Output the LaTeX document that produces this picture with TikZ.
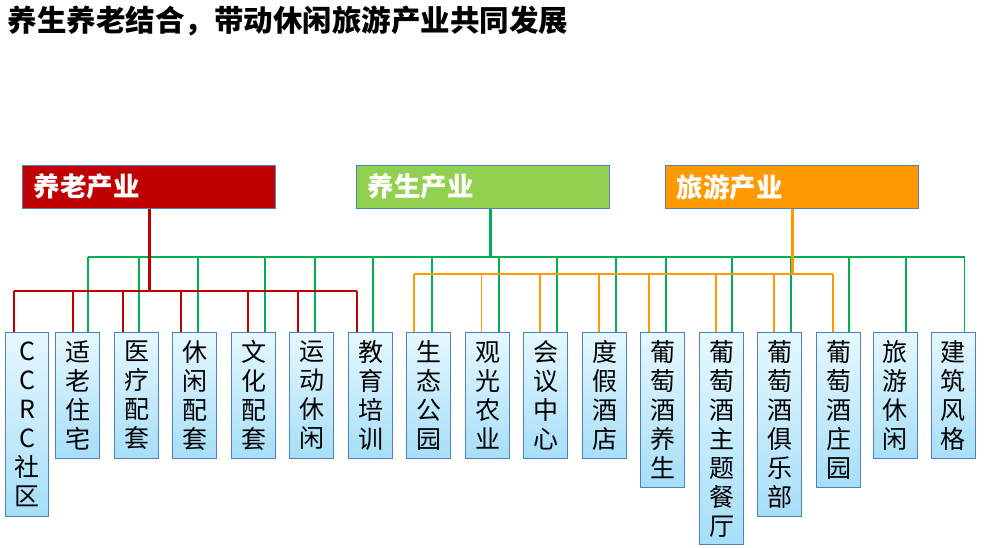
\documentclass[tikz,border=0pt]{standalone}
\usepackage{fontspec}
\setmainfont{Noto Sans CJK SC}
\usepackage{xcolor}
\usepackage{tikz}
\usetikzlibrary{positioning}
\definecolor{elderred}{HTML}{C00000}
\definecolor{healthgreen}{HTML}{92D050}
\definecolor{tourorange}{HTML}{FF9900}
\definecolor{wiregreen}{HTML}{00B050}
\definecolor{frameblue}{HTML}{4F81BD}
\definecolor{leaftop}{HTML}{E6F8FF}
\definecolor{leafbot}{HTML}{A6DEF8}
\newcommand{\eldercolor}{elderred}
\newcommand{\healthcolor}{healthgreen}
\newcommand{\tourcolor}{tourorange}

\begin{document}
\begin{tikzpicture}[
      % GLOBAL CFG
      x=1pt, y=-1pt,
      % Styles
      sector/.style={% For the three industries
        rectangle,
        draw=frameblue,
        line width=1pt,
        anchor=north west,
        minimum width=253pt,
        minimum height=43pt,
        inner xsep=11pt,
        text width=231pt,
        align=left,
        text=white,
        font=\fontsize{26.5}{30}\selectfont\bfseries
      },
      leaf/.style={% For the single items
        rectangle,
        draw=frameblue,
        line width=1pt,
        anchor=north west,
        top color=leaftop,
        bottom color=leafbot,
        text width=40pt,
        inner xsep=2pt,
        align=center,
        font=\fontsize{25}{29}\selectfont
      },
      redwire/.style={% Lines of the elderly care branch
        draw=elderred,
        line width=1.8pt
      },
      greenwire/.style={% Lines of the health branch
        draw=wiregreen,
        line width=1.8pt
      },
      orangewire/.style={% Lines of the tourism branch
        draw=tourorange,
        line width=1.8pt
      },
      trunk/.style={
        line width=3pt
      }
      ]

      \useasboundingbox (0,0) rectangle (986,548);

      % Title
      \node [anchor=west, font=\fontsize{29.5}{32}\selectfont\bfseries] (title) at (4,21)
        {养生养老结合，带动休闲旅游产业共同发展};

      % The three industries
      \node [sector, fill=\eldercolor] (yanglao) at (22.3,165) {养老产业};
      \node [sector, fill=\healthcolor] (yangsheng) at (356.3,165) {养生产业};
      \node [sector, fill=\tourcolor] (lvyou) at (665,165) {旅游产业};

      % The items
      \node [leaf, text width=38.4pt, minimum height=184pt] (item1) at (5.3,332) {C\\C\\R\\C\\社\\区};
      \node [leaf, minimum height=126pt] (item2) at (55.3,332) {适\\老\\住\\宅};
      \node [leaf, minimum height=126pt] (item3) at (114.3,332) {医\\疗\\配\\套};
      \node [leaf, minimum height=126pt] (item4) at (172.3,332) {休\\闲\\配\\套};
      \node [leaf, minimum height=126pt] (item5) at (231.3,332) {文\\化\\配\\套};
      \node [leaf, minimum height=126pt] (item6) at (289.3,332) {运\\动\\休\\闲};
      \node [leaf, minimum height=126pt] (item7) at (348.3,332) {教\\育\\培\\训};
      \node [leaf, minimum height=126pt] (item8) at (406.3,332) {生\\态\\公\\园};
      \node [leaf, minimum height=126pt] (item9) at (465.4,332) {观\\光\\农\\业};
      \node [leaf, minimum height=126pt] (item10) at (523.4,332) {会\\议\\中\\心};
      \node [leaf, minimum height=126pt] (item11) at (582.4,332) {度\\假\\酒\\店};
      \node [leaf, minimum height=155pt] (item12) at (640.4,332) {葡\\萄\\酒\\养\\生};
      \node [leaf, minimum height=212pt] (item13) at (699.4,332) {葡\\萄\\酒\\主\\题\\餐\\厅};
      \node [leaf, minimum height=184pt] (item14) at (757.4,332) {葡\\萄\\酒\\俱\\乐\\部};
      \node [leaf, minimum height=155pt] (item15) at (816.4,332) {葡\\萄\\酒\\庄\\园};
      \node [leaf, minimum height=126pt] (item16) at (872.5,332) {旅\\游\\休\\闲};
      \node [leaf, minimum height=126pt] (item17) at (930.8,332) {建\\筑\\风\\格};

      % Heights of the three buses
      \coordinate (gbus) at (0,257);
      \coordinate (obus) at (0,274);
      \coordinate (rbus) at (0,290.7);

      % Health branch
      \draw [greenwire] (item2.north west) ++(32.4,0) coordinate (g2) -- (g2 |- gbus);
      \draw [greenwire] (item3.north west) ++(24.4,0) coordinate (g3) -- (g3 |- gbus);
      \draw [greenwire] (item4.north west) ++(25.7,0) coordinate (g4) -- (g4 |- gbus);
      \draw [greenwire] (item5.north west) ++(33.7,0) coordinate (g5) -- (g5 |- gbus);
      \draw [greenwire] (item6.north west) ++(25.4,0) coordinate (g6) -- (g6 |- gbus);
      \draw [greenwire] (item7.north west) ++(24.4,0) coordinate (g7) -- (g7 |- gbus);
      \draw [greenwire] (item8.north west) ++(25.5,0) coordinate (g8) -- (g8 |- gbus);
      \draw [greenwire] (item9.north west) ++(33.6,0) coordinate (g9) -- (g9 |- gbus);
      \draw [greenwire] (item10.north west) ++(33.6,0) coordinate (g10) -- (g10 |- gbus);
      \draw [greenwire] (item11.north west) ++(33.6,0) coordinate (g11) -- (g11 |- gbus);
      \draw [greenwire] (item12.north west) ++(25.4,0) coordinate (g12) -- (g12 |- gbus);
      \draw [greenwire] (item13.north west) ++(32.6,0) coordinate (g13) -- (g13 |- gbus);
      \draw [greenwire] (item14.north west) ++(33.6,0) coordinate (g14) -- (g14 |- gbus);
      \draw [greenwire] (item15.north west) ++(32.6,0) coordinate (g15) -- (g15 |- gbus);
      \draw [greenwire] (item16.north west) ++(33.5,0) coordinate (g16) -- (g16 |- gbus);
      \draw [greenwire] (item17.north west) ++(33.7,0) coordinate (g17) -- (g17 |- gbus);
      \draw [greenwire] (g2 |- gbus) -- (g17 |- gbus);
      \draw [greenwire, trunk] (yangsheng.south) ++(7,0) coordinate (gtop) -- (gtop |- gbus);

      % Tourism branch
      \draw [orangewire] (item8.north west) ++(7.9,0) coordinate (o8) -- (o8 |- obus);
      \draw [orangewire] (item9.north west) ++(16,0) coordinate (o9) -- (o9 |- obus);
      \draw [orangewire] (item10.north west) ++(16.4,0) coordinate (o10) -- (o10 |- obus);
      \draw [orangewire] (item11.north west) ++(16.5,0) coordinate (o11) -- (o11 |- obus);
      \draw [orangewire] (item12.north west) ++(8.6,0) coordinate (o12) -- (o12 |- obus);
      \draw [orangewire] (item13.north west) ++(16.9,0) coordinate (o13) -- (o13 |- obus);
      \draw [orangewire] (item14.north west) ++(16.4,0) coordinate (o14) -- (o14 |- obus);
      \draw [orangewire] (item15.north west) ++(16.6,0) coordinate (o15) -- (o15 |- obus);
      \draw [orangewire] (o8 |- obus) -- (o15 |- obus);
      \draw [orangewire, trunk] (lvyou.south) -- ([yshift=-1pt]lvyou.south |- obus);

      % Elderly care branch
      \draw [redwire] (item1.north west) ++(8.7,0) coordinate (r1) -- (r1 |- rbus);
      \draw [redwire] (item2.north west) ++(17.4,0) coordinate (r2) -- (r2 |- rbus);
      \draw [redwire] (item3.north west) ++(8.7,0) coordinate (r3) -- (r3 |- rbus);
      \draw [redwire] (item4.north west) ++(8.7,0) coordinate (r4) -- (r4 |- rbus);
      \draw [redwire] (item5.north west) ++(16.7,0) coordinate (r5) -- (r5 |- rbus);
      \draw [redwire] (item6.north west) ++(8.4,0) coordinate (r6) -- (r6 |- rbus);
      \draw [redwire] (item7.north west) ++(8.7,0) coordinate (r7) -- (r7 |- rbus);
      \draw [redwire] (r1 |- rbus) -- (r7 |- rbus);
      \draw [redwire, trunk] (yanglao.south) -- ([yshift=-1pt]yanglao.south |- rbus);
    \end{tikzpicture}
\end{document}
